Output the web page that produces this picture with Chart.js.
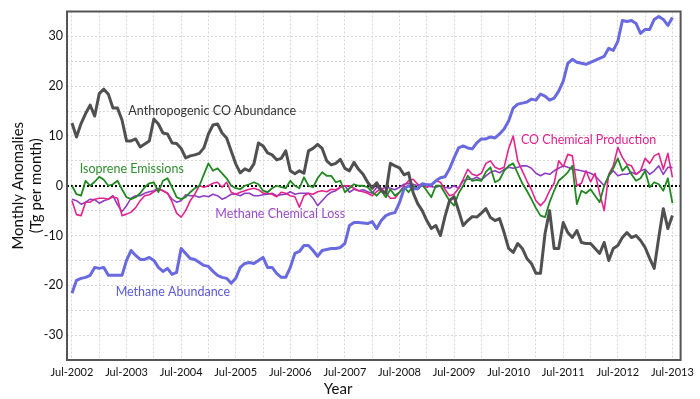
<!DOCTYPE html>
<html>
<head>
<meta charset="utf-8">
<script src="https://cdn.jsdelivr.net/npm/chart.js@4.4.0/dist/chart.umd.min.js"></script>
<style>
  html, body { margin: 0; padding: 0; background: #fff; }
  #wrap { width: 700px; height: 399px; }
</style>
</head>
<body>
<div id="wrap"><canvas id="grafico" width="700" height="399"></canvas></div>
<script>
// months counted from Jul-2002 (0) to Jul-2013 (132)
const xTicks = [0, 6, 12, 18, 24, 30, 36, 42, 48, 54, 60, 66, 72, 78, 84, 90, 96, 102, 108, 114, 120, 126, 132];
const xLabelMonths = [0, 12, 24, 36, 48, 60, 72, 84, 96, 108, 120, 132];
const tickLabels = ['Jul-2002', 'Jul-2003', 'Jul-2004', 'Jul-2005', 'Jul-2006', 'Jul-2007',
                    'Jul-2008', 'Jul-2009', 'Jul-2010', 'Jul-2011', 'Jul-2012', 'Jul-2013'];
const yTicks = [-35, -30, -25, -20, -15, -10, -5, 0, 5, 10, 15, 20, 25, 30, 35];
const yLabelValues = [-30, -20, -10, 0, 10, 20, 30];

const anthroCO = [
  12.6, 9.8, 12.5, 14.5, 16.2, 14, 18.5, 19.4, 18.4, 15.6,
  15.6, 13.2, 9, 9, 9.4, 7.8, 8.4, 9, 13.4, 12.4,
  10.6, 10.4, 8.6, 8.5, 7.5, 5.6, 6, 6.2, 6.5, 7.6,
  10.4, 12.2, 12.4, 10.6, 9.6, 7, 4.4, 2.6, 3.4, 3,
  4.4, 8.6, 8, 6.6, 6.2, 5.2, 5.5, 7, 3, 2.4,
  3, 2.5, 7, 7.5, 8.3, 7.5, 5, 4.2, 4.5, 5.3,
  3.5, 3, 4.7, 3.3, 2.3, 0.7, -0.5, 0.6, -1, -1.5,
  4.5, 4, 3.6, 2.2, 2.6, -1.4, -3.6, -5, -7, -8.6,
  -8, -10, -6.2, -3, -2.2, -5, -8, -7, -6.2, -6.3,
  -5.5, -4.6, -6.4, -7, -6.6, -9.4, -12.6, -13.4, -11.6, -12.6,
  -14.6, -15.6, -17.6, -17.6, -9.6, -5, -12.6, -12.6, -7.4, -9.4,
  -10.4, -9, -11.4, -11.6, -11.6, -12.6, -13.6, -11.4, -15, -12.6,
  -12, -10.4, -9.4, -10.4, -10, -11, -12.4, -14.6, -16.6, -10.4,
  -4.6, -8.6, -6
];

const methaneAbund = [
  -21.6, -19, -18.6, -18.4, -18, -16.4, -16.6, -16.4, -18, -18,
  -18, -18, -15, -13, -14, -14.8, -14.8, -14.4, -15, -16.4,
  -17.2, -16.6, -17.8, -17.4, -12.6, -13.6, -14.6, -14.8, -15.4, -16,
  -16.2, -17.2, -18, -18.4, -18.6, -19.6, -18.6, -16.4, -15.6, -15.4,
  -15.6, -15, -14.4, -16.4, -16.4, -17.6, -18.4, -18.4, -16.4, -13.6,
  -13.2, -12, -12, -13, -14.2, -13, -12.8, -12.6, -12.6, -12.4,
  -11.6, -8, -7.4, -7.4, -7.5, -7.6, -7.2, -8.6, -7, -6,
  -5.6, -5.4, -3.4, -0.6, 0, -0.6, -0.6, 0.4, 0.2, 0.2,
  1, 1.6, 1.8, 3.4, 5.6, 7.6, 8, 7.6, 7.4, 8.6,
  9.4, 9.4, 9.8, 9.6, 10.4, 11.4, 13, 15.6, 16.4, 16.6,
  16.8, 17.4, 17.2, 18.4, 18, 17.2, 17.6, 19, 21, 24.6,
  25.4, 24.8, 24.6, 24.4, 24.8, 25.2, 25.6, 26, 27.6, 27.2,
  29, 33.2, 33, 33.2, 32.6, 30.6, 31.4, 31.4, 33.4, 34,
  33.4, 32.2, 33.8
];

const isoprene = [
  0, -1.7, -2, 1, 0, 0.8, 1.8, 1.2, 0, 0.3,
  1, -0.7, -2.3, -2.7, -2.3, -1.5, -0.3, 0.5, 0.7, -1.3,
  1, 1.5, -0.3, -2.3, -2.7, -2.3, -1.3, -0.5, 0, 2.3,
  4.5, 3, 3.5, 2.5, 1.5, 0, -0.5, -0.7, 0, 0.3,
  0.7, 0.3, -1, -1.3, -0.5, 0, -0.3, -0.5, 1, 0,
  -0.5, 1.7, 0, -0.3, 1.5, 2.7, 2, 2, 0.7, 1,
  -1.3, -0.5, 0.3, 0, 0, -0.3, -1.3, -2, -1, -2.3,
  -0.7, -2, -1.3, -0.3, -1.3, 0, -0.7, 0.2, -1, -2.3,
  0, 0, -1.5, -3, -4, -1.5, 0, 2, 1, 1.2,
  1, 2.8, 3.7, 0.7, 1.2, 3, 4, 4.5, 2.5, 0.5,
  -1, -2.7, -4.5, -6, -6.3, -3.3, -1, 1, 1.8, 2.7,
  4, -3.7, -1, -1.5, -0.7, -2, -3.3, 0, 2, 3.5,
  5.5, 3, 4, 2.3, 1, 1.5, 3, -0.3, 0.7, 0.3,
  -1, 1.5, -3.5
];

const coChemProd = [
  -3, -5.8, -6, -3.3, -3.3, -2.7, -2.5, -2.5, -2.7, -2.2,
  -2.5, -6, -5.7, -5.3, -4.4, -3, -2, -1.8, -1.2, -0.7,
  -1, -1.5, -3.2, -5.5, -6.3, -5, -3, -1.7, 0, -0.3,
  0, 0.5, 0.7, -0.3, 0.7, -1.3, -1.7, -1.3, -1, -0.7,
  -0.5, -0.8, -1.5, -1.5, -1.7, -2.2, -1.3, -1.5, -2, -2.2,
  -4.3, -2, -1.5, -1.7, -1.2, -1, -1.2, -0.7, -0.8, -0.3,
  0, 0, -0.5, -1, -1.2, -1.5, -2, -1.2, -0.5, -1.5,
  -2.5, -2.5, -1.3, 0, 1, 1.3, 0.3, 0, -0.3, 0,
  1, 0.7, -0.7, -2, -1.7, -0.5, 1.3, 3.3, 2.3, 2,
  2.5, 4.5, 5, 3.7, 3.3, 3.7, 7.5, 10, 5, 3,
  1, -0.8, -3, -4, -3, -1, 0.5, 5, 3.8, 6.3,
  6, 0, 0.5, 3, 0.8, 2.5, -1.5, -5, 2.3, 4,
  7.7, 5.7, 4.3, 4, 2.3, 3, 5.5, 4.5, 6, 6.5,
  3.3, 6.5, 1.7
];

const methaneLoss = [
  -2.7, -3, -3.7, -3.3, -2.7, -2.8, -3.5, -3, -2.7, -2,
  -3.8, -5.2, -4, -2.5, -2, -2, -1.5, -1.2, -1, -0.5,
  -1, -1.5, -2.7, -3.3, -3, -1.8, -2, -2, -2.3, -2,
  -2.2, -1.7, -2, -2.7, -2.3, -1.7, -1.7, -2, -1.5, -1.5,
  -2, -2, -1.8, -1.7, -1.5, -2, -1.8, -1.7, -1.2, -1.7,
  -1.5, -1.5, -1.5, -2.5, -4, -3, -2, -1.3, -1, -0.3,
  0, -1.3, -0.7, -1, -0.8, -1.2, -1.5, -0.3, -0.7, -0.3,
  -0.5, -0.8, -0.3, 0.3, 0.5, 0.3, 0, 0.3, 0, -0.2,
  -0.3, 0, -0.3, -0.5, 0, -0.5, 1, 1.3, 1.3, 1.7,
  1.2, 2, 2.7, 3, 2.6, 3.3, 3.7, 3.5, 3.7, 4,
  4, 3.5, 2.5, 2, 2.5, 2.3, 3, 3.5, 4, 3.7,
  3.3, 3.2, 3, 2.8, 2.5, 2, 1, 0, 2, 3,
  2, 2.3, 2.3, 2.7, 2.3, 3, 3.3, 2.3, 3, 4,
  2.3, 3.7, 3.7
];

// text labels placed in data units (month, value)
const notas = [
  { text: 'Anthropogenic CO Abundance', month: 12.4, value: 15, color: '#333333' },
  { text: 'Isoprene Emissions', month: 1.7, value: 3.4, color: '#2f8f2f' },
  { text: 'Methane Chemical Loss', month: 31.5, value: -5.6, color: '#9a4cc6' },
  { text: 'CO Chemical Production', month: 98.7, value: 9.2, color: '#e0208c' },
  { text: 'Methane Abundance', month: 9.6, value: -21.4, color: '#5a5ad8' }
];

const fuente = "Lato, 'Open Sans', sans-serif";

function puntos(serie) {
  return serie.map((v, i) => ({ x: i, y: v }));
}

const etiquetasPlugin = {
  id: 'etiquetas',
  afterDatasetsDraw(chart) {
    const { ctx, scales: { x, y } } = chart;
    ctx.save();
    ctx.font = '12.5px ' + fuente;
    ctx.textAlign = 'left';
    ctx.textBaseline = 'middle';
    notas.forEach(n => {
      ctx.fillStyle = n.color;
      ctx.fillText(n.text, x.getPixelForValue(n.month), y.getPixelForValue(n.value));
    });
    // x axis title sits left of centre in the original
    ctx.font = '15px ' + fuente;
    ctx.fillStyle = '#111';
    ctx.textAlign = 'center';
    ctx.fillText('Year', x.getPixelForValue(58.5), 389);
    ctx.restore();
  }
};

const marcoPlugin = {
  id: 'marco',
  afterDraw(chart) {
    const { ctx, chartArea: a } = chart;
    ctx.save();
    ctx.strokeStyle = '#555555';
    ctx.lineWidth = 2;
    ctx.strokeRect(a.left, a.top, a.right - a.left, a.bottom - a.top);
    ctx.restore();
  }
};

const ctx = document.getElementById('grafico').getContext('2d');
const grafico = new Chart(ctx, {
  type: 'line',
  data: {
    datasets: [
      { label: 'Anthropogenic CO Abundance', data: puntos(anthroCO), borderColor: '#505050', borderWidth: 3 },
      { label: 'Methane Abundance', data: puntos(methaneAbund), borderColor: '#6a6ae0', borderWidth: 3 },
      { label: 'Isoprene Emissions', data: puntos(isoprene), borderColor: '#228822', borderWidth: 1.8 },
      { label: 'CO Chemical Production', data: puntos(coChemProd), borderColor: '#e2248c', borderWidth: 1.6 },
      { label: 'Methane Chemical Loss', data: puntos(methaneLoss), borderColor: '#8f3cc4', borderWidth: 1.6 }
    ]
  },
  options: {
    responsive: false,
    animation: false,
    devicePixelRatio: 1,
    layout: { padding: { left: 0, right: 13, top: 10, bottom: 0 } },
    plugins: { legend: { display: false }, tooltip: { enabled: false } },
    elements: { point: { radius: 0 }, line: { tension: 0, borderJoinStyle: 'round' } },
    scales: {
      x: {
        type: 'linear',
        min: -1.09,
        max: 133.8,
        afterBuildTicks: s => { s.ticks = xTicks.map(v => ({ value: v })); },
        afterFit: s => { s.height = 39; },
        grid: { color: '#d6d6d6', lineWidth: 1, drawTicks: false },
        border: { display: false, dash: [2, 2] },
        ticks: {
          autoSkip: false,
          maxRotation: 0,
          padding: 6,
          color: '#111',
          font: { family: fuente, size: 11 },
          callback: v => {
            const k = xLabelMonths.indexOf(v);
            return k >= 0 ? tickLabels[k] : '';
          }
        },
        title: { display: false }
      },
      y: {
        min: -35,
        max: 35,
        afterBuildTicks: s => { s.ticks = yTicks.map(v => ({ value: v })); },
        afterFit: s => { s.width = 67; },
        grid: {
          drawTicks: false,
          color: c => c.tick && c.tick.value === 0 ? '#000000' : '#d6d6d6',
          lineWidth: c => c.tick && c.tick.value === 0 ? 2 : 1
        },
        border: { display: false, dash: [2, 2] },
        ticks: {
          padding: 4,
          color: '#111',
          font: { family: fuente, size: 12.5 },
          callback: v => yLabelValues.includes(v) ? String(v) : ''
        },
        title: {
          display: true,
          text: ['Monthly Anomalies', '(Tg per month)'],
          color: '#111',
          font: { family: fuente, size: 15, lineHeight: 1.2 },
          padding: { top: 9, bottom: 0 }
        }
      }
    }
  },
  plugins: [etiquetasPlugin, marcoPlugin]
});
</script>
</body>
</html>
